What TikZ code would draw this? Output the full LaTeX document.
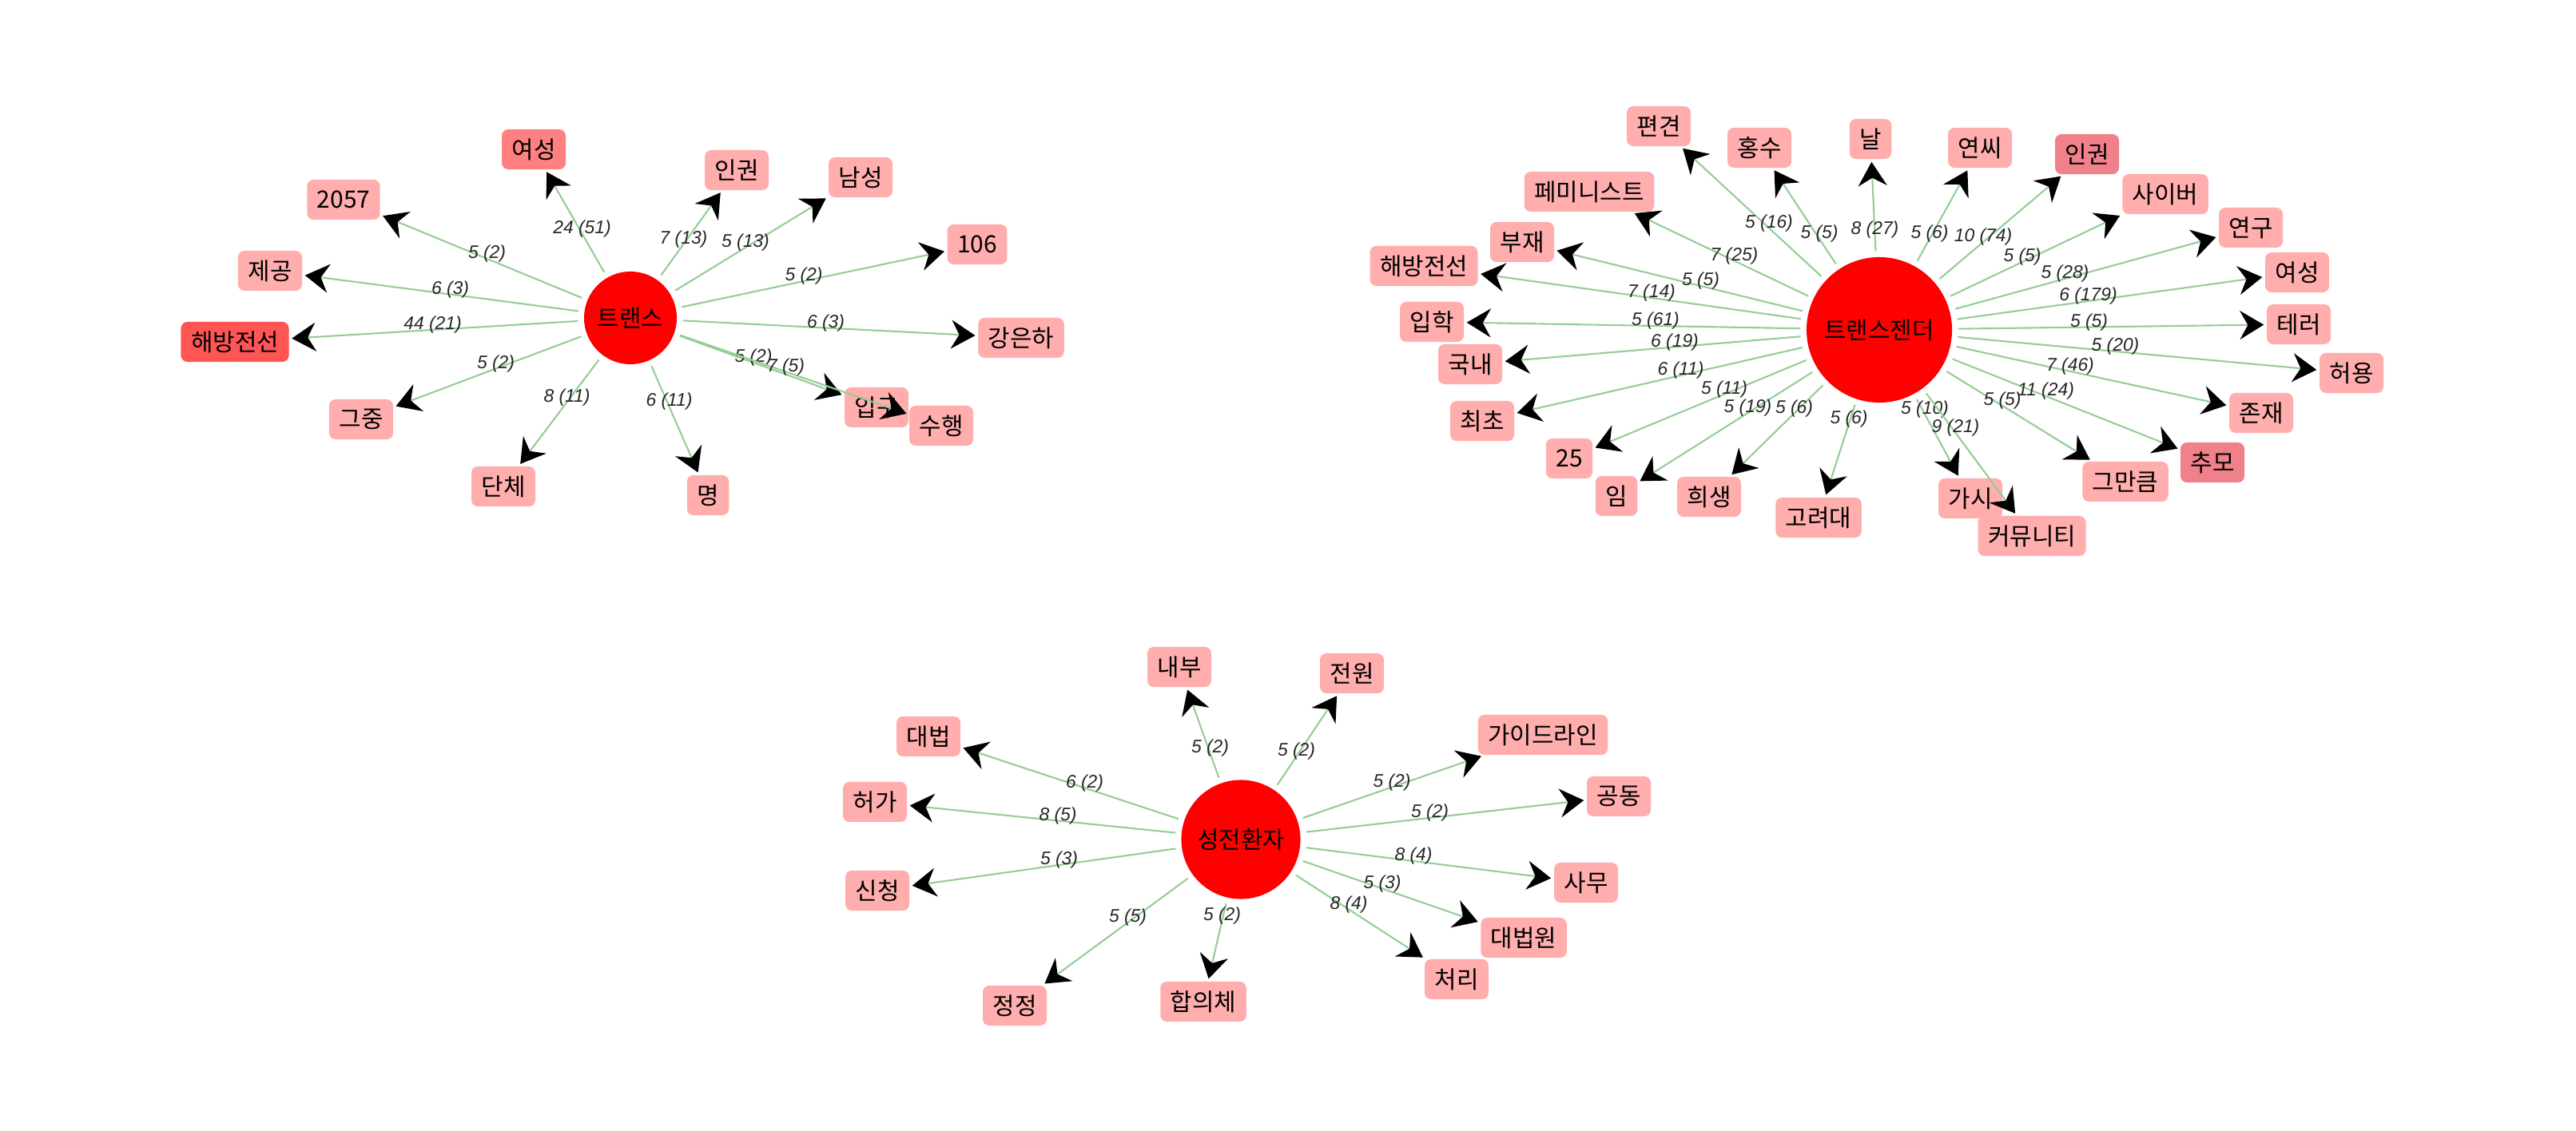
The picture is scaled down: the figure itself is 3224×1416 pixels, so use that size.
\documentclass[tikz,border=0pt]{standalone}
\usepackage{fontspec}
\setmainfont{Noto Sans CJK KR}
\newfontfamily\weightfont{Liberation Sans}
\usetikzlibrary{arrows.meta}
\definecolor{kwpink}{RGB}{255,173,173}
\definecolor{kwwarm}{RGB}{255,128,128}
\definecolor{kwhot}{RGB}{255,85,85}
\definecolor{kwrose}{RGB}{240,129,138}
\definecolor{kwgreen}{RGB}{150,205,150}
\tikzset{
  hub/.style={circle,fill=red,draw=none,inner sep=0pt,text=black,font=\fontsize{8.5}{10}\selectfont},
  kw/.style={rectangle,rounded corners=0.08cm,fill=kwpink,draw=none,minimum height=0.5cm,inner xsep=0.125cm,inner ysep=0pt,text=black,font=\fontsize{8.5}{10}\selectfont},
  kwedge/.style={draw=kwgreen,line width=0.6pt,-{Stealth[length=0.3cm,width=0.36cm,inset=0.1cm,color=black]},shorten <=0.07cm,shorten >=0.03cm},
  kwweight/.style={font=\weightfont\itshape\fontsize{6.5}{7}\selectfont,text=black!85,yshift=0.06cm,inner sep=0pt}
}
\newcommand{\kwnode}[5][]{\node[kw,#1] (#2) at (#3,#4) {#5};}
\newcommand{\kwlink}[3]{\draw[kwedge] (#1) -- (#2);\path (#1.center) -- node[kwweight] {#3} (#2.center);}

\begin{document}
\begin{tikzpicture}[x=0.01cm,y=-0.01cm]
\useasboundingbox (0,0) rectangle (3224,1416);
\node[hub,minimum size=1.16cm] (trans) at (789,398) {트랜스};
\kwnode[fill=kwwarm]{tyeoseong}{668}{187}{여성}
\kwnode{t2057}{430}{250}{2057}
\kwnode{tjegong}{338}{339}{제공}
\kwnode[fill=kwhot]{thaebang}{294}{428}{해방전선}
\kwnode{tgeujung}{452}{525}{그중}
\kwnode{tdanche}{630}{609}{단체}
\kwnode{tmyeong}{886}{620}{명}
\kwnode{tipgu}{1097}{510}{입구}
\kwnode{tsuhaeng}{1178}{533}{수행}
\kwnode{tgangeunha}{1278}{423}{강은하}
\kwnode{t106}{1223}{306}{106}
\kwnode{tnamseong}{1077}{222}{남성}
\kwnode{tingwon}{922}{213}{인권}
\kwlink{trans}{tyeoseong}{24 (51)}
\kwlink{trans}{t2057}{5 (2)}
\kwlink{trans}{tjegong}{6 (3)}
\kwlink{trans}{thaebang}{44 (21)}
\kwlink{trans}{tgeujung}{5 (2)}
\kwlink{trans}{tdanche}{8 (11)}
\kwlink{trans}{tmyeong}{6 (11)}
\kwlink{trans}{tipgu}{5 (2)}
\kwlink{trans}{tsuhaeng}{7 (5)}
\kwlink{trans}{tgangeunha}{6 (3)}
\kwlink{trans}{t106}{5 (2)}
\kwlink{trans}{tnamseong}{5 (13)}
\kwlink{trans}{tingwon}{7 (13)}

\node[hub,minimum size=1.82cm] (gender) at (2352,413) {트랜스젠더};
\kwnode{gpyeongyeon}{2076}{158}{편견}
\kwnode{ghongsu}{2202}{185}{홍수}
\kwnode{gnal}{2341}{174}{날}
\kwnode{gyeonssi}{2478}{185}{연씨}
\kwnode[fill=kwrose]{gingwon}{2612}{193}{인권}
\kwnode{gsaibeo}{2710}{243}{사이버}
\kwnode{gyeongu}{2817}{285}{연구}
\kwnode{gyeoseong}{2875}{341}{여성}
\kwnode{gtereo}{2877}{406}{테러}
\kwnode{gheoyong}{2943}{467}{허용}
\kwnode{gjonjae}{2830}{517}{존재}
\kwnode[fill=kwrose]{gchumo}{2769}{579}{추모}
\kwnode{ggeumankeum}{2660}{603}{그만큼}
\kwnode{ggasi}{2466}{624}{가시}
\kwnode{gcommunity}{2543}{671}{커뮤니티}
\kwnode{ggoryeodae}{2276}{648}{고려대}
\kwnode{gheesaeng}{2139}{622}{희생}
\kwnode{gim}{2023}{621}{임}
\kwnode{g25}{1964}{574}{25}
\kwnode{gchoecho}{1855}{527}{최초}
\kwnode{ggungnae}{1840}{456}{국내}
\kwnode{giphak}{1792}{403}{입학}
\kwnode{ghaebang}{1782}{333}{해방전선}
\kwnode{gbujae}{1905}{303}{부재}
\kwnode{gfeminist}{1989}{240}{페미니스트}
\kwlink{gender}{gpyeongyeon}{5 (16)}
\kwlink{gender}{ghongsu}{5 (5)}
\kwlink{gender}{gnal}{8 (27)}
\kwlink{gender}{gyeonssi}{5 (6)}
\kwlink{gender}{gingwon}{10 (74)}
\kwlink{gender}{gsaibeo}{5 (5)}
\kwlink{gender}{gyeongu}{5 (28)}
\kwlink{gender}{gyeoseong}{6 (179)}
\kwlink{gender}{gtereo}{5 (5)}
\kwlink{gender}{gheoyong}{5 (20)}
\kwlink{gender}{gjonjae}{7 (46)}
\kwlink{gender}{gchumo}{11 (24)}
\kwlink{gender}{ggeumankeum}{5 (5)}
\kwlink{gender}{ggasi}{5 (10)}
\kwlink{gender}{gcommunity}{9 (21)}
\kwlink{gender}{ggoryeodae}{5 (6)}
\kwlink{gender}{gheesaeng}{5 (6)}
\kwlink{gender}{gim}{5 (19)}
\kwlink{gender}{g25}{5 (11)}
\kwlink{gender}{gchoecho}{6 (11)}
\kwlink{gender}{ggungnae}{6 (19)}
\kwlink{gender}{giphak}{5 (61)}
\kwlink{gender}{ghaebang}{7 (14)}
\kwlink{gender}{gbujae}{5 (5)}
\kwlink{gender}{gfeminist}{7 (25)}

\node[hub,minimum size=1.49cm] (sex) at (1553,1051) {성전환자};
\kwnode{snaebu}{1476}{835}{내부}
\kwnode{sjeonwon}{1692}{843}{전원}
\kwnode{sguideline}{1931}{920}{가이드라인}
\kwnode{sgongdong}{2026}{997}{공동}
\kwnode{samu}{1985}{1105}{사무}
\kwnode{sdaebeopwon}{1907}{1174}{대법원}
\kwnode{scheori}{1823}{1226}{처리}
\kwnode{shabuiche}{1506}{1254}{합의체}
\kwnode{sjeongjeong}{1270}{1259}{정정}
\kwnode{ssincheong}{1098}{1115}{신청}
\kwnode{sheoga}{1095}{1004}{허가}
\kwnode{sdaebeop}{1162}{922}{대법}
\kwlink{sex}{snaebu}{5 (2)}
\kwlink{sex}{sjeonwon}{5 (2)}
\kwlink{sex}{sguideline}{5 (2)}
\kwlink{sex}{sgongdong}{5 (2)}
\kwlink{sex}{samu}{8 (4)}
\kwlink{sex}{sdaebeopwon}{5 (3)}
\kwlink{sex}{scheori}{8 (4)}
\kwlink{sex}{shabuiche}{5 (2)}
\kwlink{sex}{sjeongjeong}{5 (5)}
\kwlink{sex}{ssincheong}{5 (3)}
\kwlink{sex}{sheoga}{8 (5)}
\kwlink{sex}{sdaebeop}{6 (2)}
\end{tikzpicture}
\end{document}
